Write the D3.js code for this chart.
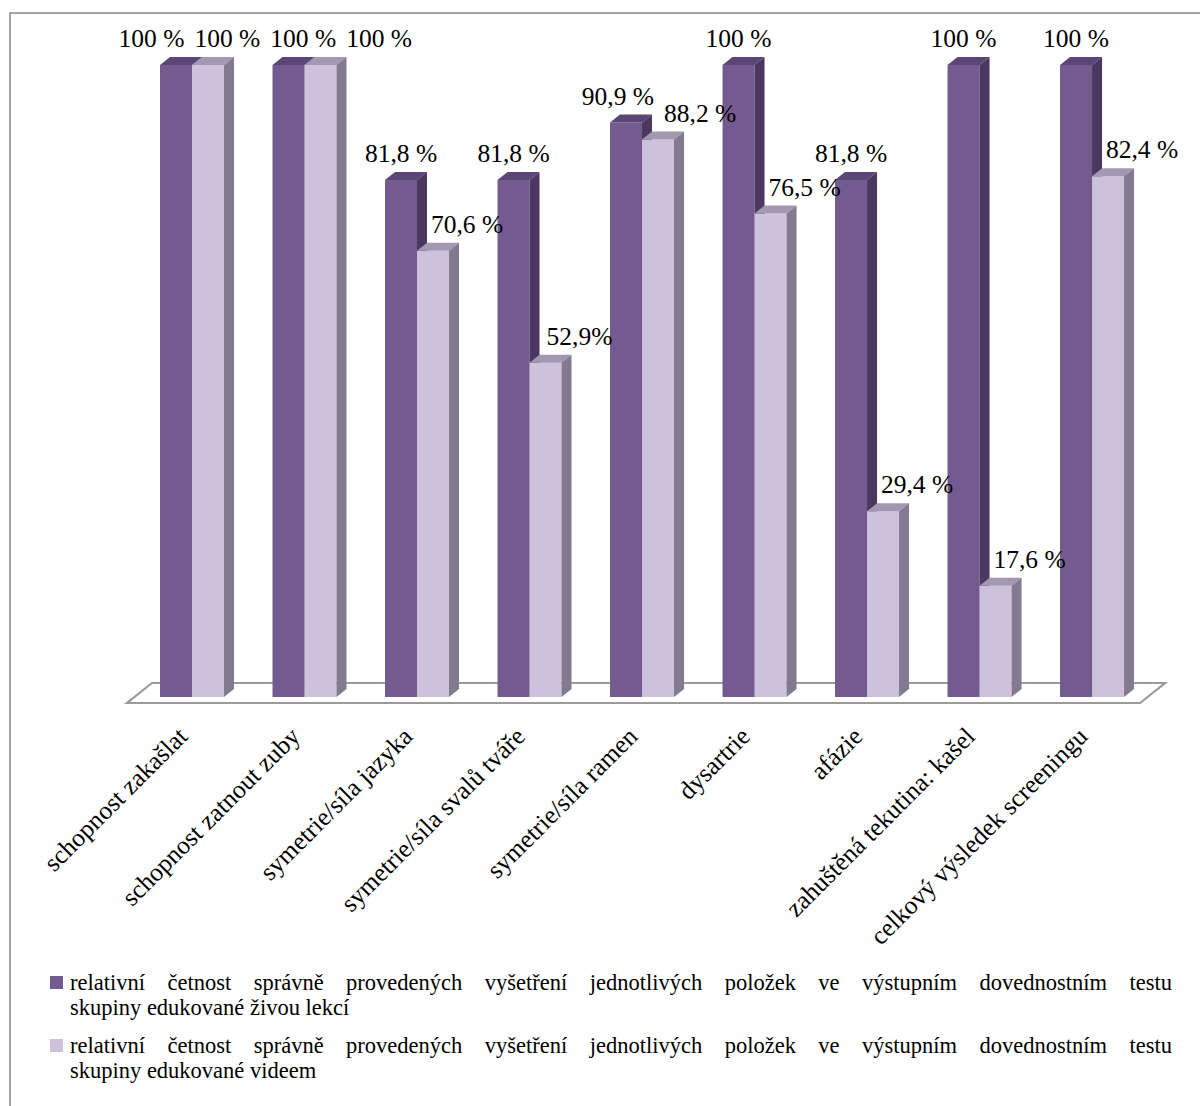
<!DOCTYPE html>
<html>
<head>
<meta charset="utf-8">
<script src="https://cdn.jsdelivr.net/npm/d3@7"></script>
<style>
  html, body { margin: 0; padding: 0; background: #fff; }
  svg { display: block; }
</style>
</head>
<body>
<svg id="chart" width="1200" height="1106"></svg>
<script>
// Items of the swallowing-screening skills test
const categories = [
  "schopnost zakašlat",
  "schopnost zatnout zuby",
  "symetrie/síla jazyka",
  "symetrie/síla svalů tváře",
  "symetrie/síla ramen",
  "dysartrie",
  "afázie",
  "zahuštěná tekutina: kašel",
  "celkový výsledek screeningu"
];

// Share of correctly performed examinations (%)
const liveLesson = [100, 100, 81.8, 81.8, 90.9, 100, 81.8, 100, 100];
const videoLesson = [100, 100, 70.6, 52.9, 88.2, 76.5, 29.4, 17.6, 82.4];

const liveLabels = ["100 %", "100 %", "81,8 %", "81,8 %", "90,9 %", "100 %", "81,8 %", "100 %", "100 %"];
const videoLabels = ["100 %", "100 %", "70,6 %", "52,9%", "88,2 %", "76,5 %", "29,4 %", "17,6 %", "82,4 %"];

const seriesNames = [
  "relativní četnost správně provedených vyšetření jednotlivých položek ve výstupním dovednostním testu skupiny edukované živou lekcí",
  "relativní četnost správně provedených vyšetření jednotlivých položek ve výstupním dovednostním testu skupiny edukované videem"
];
const seriesKeys = ["live", "video"];

const palette = {
  live:  { front: "#735a8f", top: "#5b4677", side: "#4a3860" },
  video: { front: "#cdc1db", top: "#a497b1", side: "#827a8f" }
};

const FONT = "'Liberation Serif'";
const svg = d3.select("#chart");

// Outer chart frame (runs off the right and bottom edges)
svg.append("rect")
  .attr("x", 10).attr("y", 13)
  .attr("width", 1220).attr("height", 1130)
  .attr("fill", "none").attr("stroke", "#8e8e8e").attr("stroke-width", 1.6);

const y = d3.scaleLinear().domain([0, 100]).range([697, 65]);
const x0 = d3.scaleBand().domain(categories).range([126.25, 1157.8]).paddingInner(0.431).paddingOuter(0.3);
const x1 = d3.scaleBand().domain(seriesKeys).range([0, x0.bandwidth()]);

const depthX = 10, depthY = 8;     // bar depth
const floorDX = 25, floorDY = 20;  // floor depth

// Floor
const fl = x0(categories[0]) - 33;
const fr = x0(categories[categories.length - 1]) + x0.bandwidth() + 16;
const fy = y(0) + 6;
svg.append("path")
  .attr("d", `M${fl},${fy}L${fr},${fy}L${fr + floorDX},${fy - floorDY}L${fl + floorDX},${fy - floorDY}Z`)
  .attr("fill", "#fff").attr("stroke", "#9a9a9a").attr("stroke-width", 2.2);

// Rows of bar data
const rows = categories.map((c, i) => ({
  cat: c,
  bars: [
    { key: "live", value: liveLesson[i], label: liveLabels[i] },
    { key: "video", value: videoLesson[i], label: videoLabels[i] }
  ]
}));

const groups = svg.append("g").selectAll("g.grp")
  .data(rows).join("g").attr("class", "grp")
  .attr("transform", d => `translate(${x0(d.cat)},0)`);

const bw = x1.bandwidth();
const bars = groups.selectAll("g.bar").data(d => d.bars).join("g").attr("class", "bar");

bars.append("rect")
  .attr("x", d => x1(d.key)).attr("y", d => y(d.value))
  .attr("width", bw).attr("height", d => y(0) - y(d.value))
  .attr("fill", d => palette[d.key].front);

bars.append("path")
  .attr("d", d => {
    const bx = x1(d.key), ty = y(d.value);
    return `M${bx},${ty}L${bx + bw},${ty}L${bx + bw + depthX},${ty - depthY}L${bx + depthX},${ty - depthY}Z`;
  })
  .attr("fill", d => palette[d.key].top);

bars.append("path")
  .attr("d", d => {
    const bx = x1(d.key) + bw, ty = y(d.value), by = y(0);
    return `M${bx},${ty}L${bx + depthX},${ty - depthY}L${bx + depthX},${by - depthY}L${bx},${by}Z`;
  })
  .attr("fill", d => palette[d.key].side);

// Value labels: live labels above the bar, video labels shifted right of the bar
const labelLayer = svg.append("g").attr("fill", "#000");
const labelItems = [];
rows.forEach(r => {
  r.bars.forEach(b => {
    const cx = x0(r.cat) + x1(b.key) + bw / 2 + (b.key === "video" ? 34 : 0);
    const by = y(b.value) - 18;
    const t = labelLayer.append("text")
      .style("font-family", FONT).style("font-size", "25.5px")
      .attr("text-anchor", "middle")
      .attr("x", cx).attr("y", by)
      .text(b.label);
    labelItems.push({ t, cx, by, w: t.node().getComputedTextLength() });
  });
});

// Push overlapping labels apart horizontally
for (let iter = 0; iter < 60; iter++) {
  let moved = false;
  for (let i = 0; i < labelItems.length; i++) {
    for (let j = i + 1; j < labelItems.length; j++) {
      const a = labelItems[i], b = labelItems[j];
      if (Math.abs(a.by - b.by) > 22) continue;
      const gap = 10;
      const need = (a.w + b.w) / 2 + gap - Math.abs(b.cx - a.cx);
      if (need > 0) {
        const dir = b.cx >= a.cx ? 1 : -1;
        a.cx -= dir * need / 2;
        b.cx += dir * need / 2;
        moved = true;
      }
    }
  }
  if (!moved) break;
}
labelItems.forEach(l => l.t.attr("x", l.cx));

// Category labels, rotated
svg.append("g").attr("fill", "#000")
  .selectAll("text").data(categories).join("text")
  .style("font-family", FONT).style("font-size", "25.5px")
  .attr("text-anchor", "end")
  .attr("transform", d => `translate(${x0(d) + x0.bandwidth() / 2 - 3},${y(0) + 41}) rotate(-45)`)
  .text(d => d);

// Legend, first line justified across the chart width
const legend = svg.append("g").attr("fill", "#000");
const lgLeft = 70, lgRight = 1172;
const lgBase = [990, 1053];
seriesKeys.forEach((k, i) => {
  legend.append("rect")
    .attr("x", 50).attr("y", lgBase[i] - 14)
    .attr("width", 13).attr("height", 13)
    .attr("fill", palette[k].front);
  const words = seriesNames[i].split(" ");
  const firstLine = words.slice(0, 11).join(" ");
  const secondLine = words.slice(11).join(" ");
  const t1 = legend.append("text")
    .style("font-family", FONT).style("font-size", "22.5px")
    .attr("x", lgLeft).attr("y", lgBase[i]).text(firstLine);
  const natural = t1.node().getComputedTextLength();
  const gaps = firstLine.split(" ").length - 1;
  const ws = Math.max(0, (lgRight - lgLeft - natural) / gaps);
  t1.style("word-spacing", ws + "px");
  legend.append("text")
    .style("font-family", FONT).style("font-size", "22.5px")
    .attr("x", lgLeft).attr("y", lgBase[i] + 25).text(secondLine);
});
</script>
</body>
</html>
